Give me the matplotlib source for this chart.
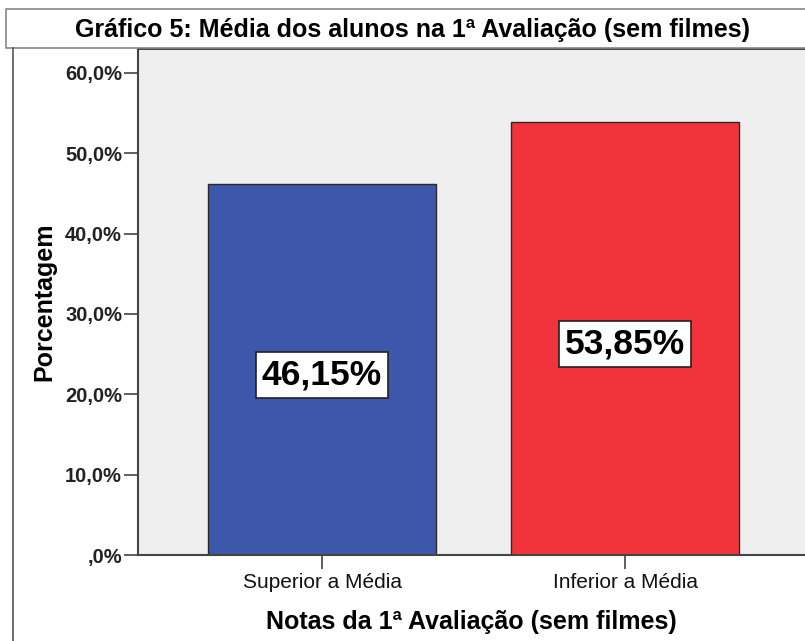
import matplotlib
matplotlib.use("Agg")
import matplotlib.pyplot as plt
from matplotlib.patches import Rectangle
from matplotlib.lines import Line2D
from matplotlib.ticker import FuncFormatter

categories = ["Superior a Média", "Inferior a Média"]
values = [46.15, 53.85]
colors = ["#3D57AB", "#F2333C"]
yticks = [0, 10, 20, 30, 40, 50, 60]
title = "Gráfico 5: Média dos alunos na 1ª Avaliação (sem filmes)"
xlabel = "Notas da 1ª Avaliação (sem filmes)"
ylabel = "Porcentagem"

plt.rcParams['font.family'] = ['Liberation Sans', 'DejaVu Sans']

W, H = 805, 641
fig = plt.figure(figsize=(W / 100, H / 100), dpi=100)
fig.patch.set_facecolor("white")

ax_left, ax_right, ax_top, ax_bottom = 138, 805, 48, 555
ax = fig.add_axes([ax_left / W, (H - ax_bottom) / H, (ax_right - ax_left) / W, (ax_bottom - ax_top) / H])
ax.set_facecolor("#EFEFEF")

x = list(range(len(categories)))
ax.bar(x, values, width=0.752, color=colors, edgecolor="#2a2a2a", linewidth=1.0, zorder=2)

ax.set_xlim(-0.6073, 1.594)
ax.set_ylim(0, 63.11)

def fmt(v, pos):
    s = f"{v:.1f}".replace(".", ",")
    if s.startswith("0,"):
        s = s[1:]
    return s + "%"

ax.set_yticks(yticks)
ax.yaxis.set_major_formatter(FuncFormatter(fmt))
ax.set_xticks(x)
ax.set_xticklabels(categories)

for lab in ax.get_yticklabels():
    lab.set_fontsize(14.5)
    lab.set_fontweight('bold')
    lab.set_color('#222222')
for lab in ax.get_xticklabels():
    lab.set_fontsize(15)
    lab.set_color('#111111')

ax.tick_params(axis='y', direction='out', length=10, width=1.2, color='#444444', pad=1.5)
ax.tick_params(axis='x', direction='out', length=10, width=1.2, color='#444444', pad=3)

for side in ['left', 'bottom']:
    ax.spines[side].set_color('#444444')
    ax.spines[side].set_linewidth(1.5)
ax.spines['top'].set_color('#333333')
ax.spines['top'].set_linewidth(2)
ax.spines['right'].set_visible(False)

ax.set_xlabel(xlabel, fontsize=18, fontweight='bold', labelpad=13)
ax.set_ylabel(ylabel, fontsize=18, fontweight='bold', labelpad=6)

for xi, v in zip(x, values):
    ax.text(xi, v / 2 - 0.7, f"{v:.2f}%".replace(".", ","), ha='center', va='center',
            fontsize=25.5, fontweight='bold', color='black', zorder=4,
            bbox=dict(boxstyle='square,pad=0.18', facecolor='white', edgecolor='#222222', linewidth=1.2))

# title box and outer frame
fig.add_artist(Rectangle((6 / W, (H - 48) / H), (W - 6 + 10) / W, 39 / H, transform=fig.transFigure,
                         facecolor='white', edgecolor='#888888', linewidth=1.2, clip_on=False))
fig.add_artist(Line2D([13 / W, 13 / W], [0, (H - 48) / H], transform=fig.transFigure,
                      color='#555555', linewidth=1.2))
fig.text(412 / W, (H - 30) / H, title, ha='center', va='center', fontsize=18, fontweight='bold')

fig.savefig("out.png", dpi=100)
